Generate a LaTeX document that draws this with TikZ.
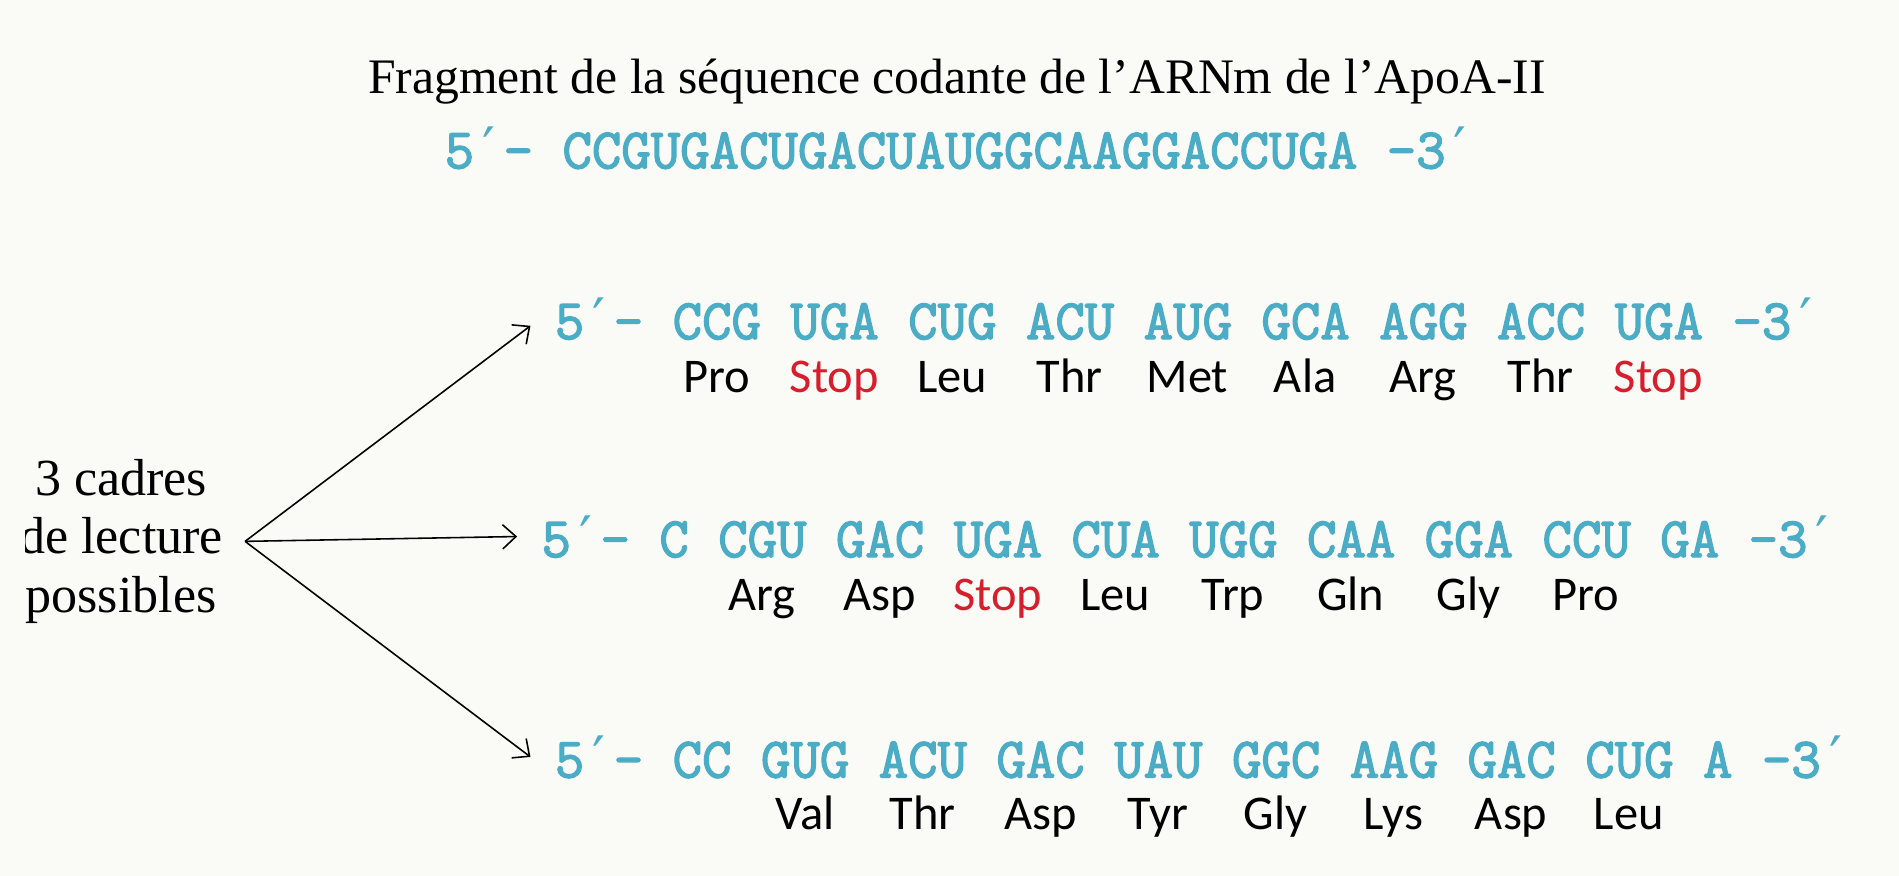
\documentclass[tikz,border=0pt]{standalone}
\usepackage{fontspec}
\setmainfont{Liberation Serif}
\newfontfamily\seqfont[FakeBold=2.4]{Latin Modern Mono}
\newfontfamily\primefont{DejaVu Sans}
\newfontfamily\aafont{Carlito}
\usetikzlibrary{arrows.meta,positioning}
\definecolor{arncyan}{RGB}{75,172,198}
\definecolor{stopred}{RGB}{215,30,45}
\definecolor{fond}{RGB}{250,250,247}
\newcommand{\prm}{\makebox[\fontcharwd\font`0][c]{\primefont ′}}

\begin{document}
\begin{tikzpicture}[x=1pt, y=-1pt,
  seq/.style = {anchor=west, inner sep=0pt, text=arncyan,
    font=\seqfont\fontsize{47.2}{47.2}\selectfont},
  cadre/.style = {seq, inner xsep=20pt},
  aa/.style = {anchor=base, inner sep=0pt,
    font=\aafont\fontsize{40}{40}\selectfont},
  stop/.style = {aa, text=stopred},
  fleche/.style = {-{Straight Barb[length=11pt,width=20pt]}, line width=1.3pt}]
  \fill[fond] (0,0) rectangle (1568,723.3);
  \useasboundingbox (0,0) rectangle (1568,723.3);

  % titre et brin complet
  \node[anchor=base, inner sep=0pt, font=\fontsize{41}{41}\selectfont]
    (titre) at (790,77) {Fragment de la séquence codante de l’ARNm de l’ApoA-II};
  \node[seq] (brin) at (367,122) {5\prm- CCGUGACUGACUAUGGCAAGGACCUGA -3\prm};

  % les trois cadres de lecture
  \begin{scope}
    \clip (21,300) rectangle (300,600);
    \node[align=center, inner sep=0pt, font=\fontsize{43}{48}\selectfont]
      (cadres) at (100,447) {3 cadres\\de lecture\\possibles};
  \end{scope}
  \node[cadre] (cadreA) at (438,263) {5\prm- CCG UGA CUG ACU AUG GCA AGG ACC UGA -3\prm};
  \node[cadre] (cadreB) at (427,443) {5\prm- C CGU GAC UGA CUA UGG CAA GGA CCU GA -3\prm};
  \node[cadre] (cadreC) at (438,625) {5\prm- CC GUG ACU GAC UAU GGC AAG GAC CUG A -3\prm};

  \coordinate (depart) at ([xshift=18pt]cadres.east);
  \draw[fleche] (depart) -- ([yshift=-6pt]cadreA.west);
  \draw[fleche] (depart) -- (cadreB.west);
  \draw[fleche] (depart) -- (cadreC.west);

  % acides amines
  \foreach \nom/\st [count=\i from 0] in {Pro/aa, Stop/stop, Leu/aa, Thr/aa,
      Met/aa, Ala/aa, Arg/aa, Thr/aa, Stop/stop}
    \node[\st] (aaA\i) at ({458+(5.5+4*\i)*24.3},324) {\nom};
  \foreach \nom/\st [count=\i from 0] in {Arg/aa, Asp/aa, Stop/stop, Leu/aa,
      Trp/aa, Gln/aa, Gly/aa, Pro/aa}
    \node[\st] (aaB\i) at ({447+(7.5+4*\i)*24.3},504) {\nom};
  \foreach \nom/\st [count=\i from 0] in {Val/aa, Thr/aa, Asp/aa, Tyr/aa,
      Gly/aa, Lys/aa, Asp/aa, Leu/aa}
    \node[\st] (aaC\i) at ({458+(8.5+4*\i)*24.3},685) {\nom};
\end{tikzpicture}
\end{document}
